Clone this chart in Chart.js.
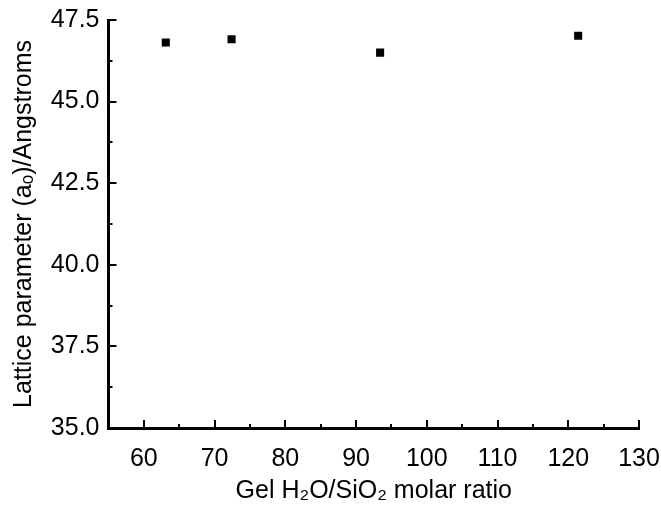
<!DOCTYPE html>
<html>
<head>
<meta charset="utf-8">
<script src="https://cdn.jsdelivr.net/npm/chart.js@4/dist/chart.umd.min.js"></script>
<style>
html,body{margin:0;padding:0;background:#fff;}
#wrap{width:661px;height:508px;}
</style>
</head>
<body>
<div id="wrap"><canvas id="c" width="661" height="508"></canvas></div>
<script>
// Data
const h2oSiO2 = [63.1, 72.4, 93.4, 121.4];
const latticeParam = [46.81, 46.91, 46.50, 47.02];
// Axis ticks
const xTicks = [60, 70, 80, 90, 100, 110, 120, 130];
const xMinorTicks = [55, 65, 75, 85, 95, 105, 115, 125];
const yTicks = [35, 37.5, 40, 42.5, 45, 47.5];
const yTickLabels = ['35.0', '37.5', '40.0', '42.5', '45.0', '47.5'];
const yMinorTicks = [36.25, 38.75, 41.25, 43.75, 46.25];
const xTitle = 'Gel H\u2082O/SiO\u2082 molar ratio';
const yTitle = 'Lattice parameter (a\u2092)/Angstroms';

Chart.defaults.color = '#000';
Chart.defaults.font.family = '"Liberation Sans", Arial, sans-serif';

const innerTicks = {
  id: 'innerTicks',
  afterDraw(chart) {
    const ctx = chart.ctx;
    const xs = chart.scales.x, ys = chart.scales.y;
    const b = chart.chartArea.bottom, l = chart.chartArea.left;
    ctx.save();
    ctx.strokeStyle = '#000';
    ctx.lineWidth = 2;
    const drawX = (v, len) => {
      const p = Math.round(xs.getPixelForValue(v));
      ctx.beginPath(); ctx.moveTo(p, b); ctx.lineTo(p, b - len); ctx.stroke();
    };
    const drawY = (v, len) => {
      const p = Math.round(ys.getPixelForValue(v));
      ctx.beginPath(); ctx.moveTo(l, p); ctx.lineTo(l + len, p); ctx.stroke();
    };
    xTicks.forEach(v => drawX(v, 8));
    xMinorTicks.forEach(v => drawX(v, 4));
    yTicks.forEach(v => drawY(v, 8));
    yMinorTicks.forEach(v => drawY(v, 4));
    ctx.restore();
  }
};

const zeroPad = s => { s.paddingLeft = 0; s.paddingRight = 0; s.paddingTop = 0; s.paddingBottom = 0; };

new Chart(document.getElementById('c'), {
  type: 'scatter',
  data: {
    datasets: [{
      data: h2oSiO2.map((x, i) => ({x: x, y: latticeParam[i]})),
      pointStyle: 'rect',
      pointRadius: 5.7,
      pointHoverRadius: 5.7,
      backgroundColor: '#000',
      borderColor: '#000',
      borderWidth: 0
    }]
  },
  plugins: [innerTicks],
  options: {
    responsive: false,
    animation: false,
    events: [],
    layout: {padding: {top: 20, right: 22, left: 0, bottom: 0}},
    plugins: {legend: {display: false}, tooltip: {enabled: false}},
    scales: {
      x: {
        type: 'linear',
        min: 55, max: 130,
        afterFit(s) { s.height = 80; zeroPad(s); },
        afterBuildTicks(s) { s.ticks = xTicks.map(v => ({value: v})); },
        grid: {display: false, drawTicks: false},
        border: {display: true, color: '#000', width: 3},
        ticks: {font: {size: 25}, padding: 16, maxRotation: 0, autoSkip: false},
        title: {display: true, text: xTitle, font: {size: 25}, padding: {top: 0, bottom: 2}}
      },
      y: {
        type: 'linear',
        min: 35, max: 47.5,
        afterFit(s) { s.width = 108.5; zeroPad(s); },
        afterBuildTicks(s) { s.ticks = yTicks.map(v => ({value: v})); },
        grid: {display: false, drawTicks: false},
        border: {display: true, color: '#000', width: 3},
        ticks: {
          font: {size: 25}, padding: 9, autoSkip: false,
          callback(v) { const i = yTicks.indexOf(v); return i >= 0 ? yTickLabels[i] : ''; }
        },
        title: {display: true, text: yTitle, font: {size: 25}, padding: {top: 9, bottom: 0}}
      }
    }
  }
});
</script>
</body>
</html>
